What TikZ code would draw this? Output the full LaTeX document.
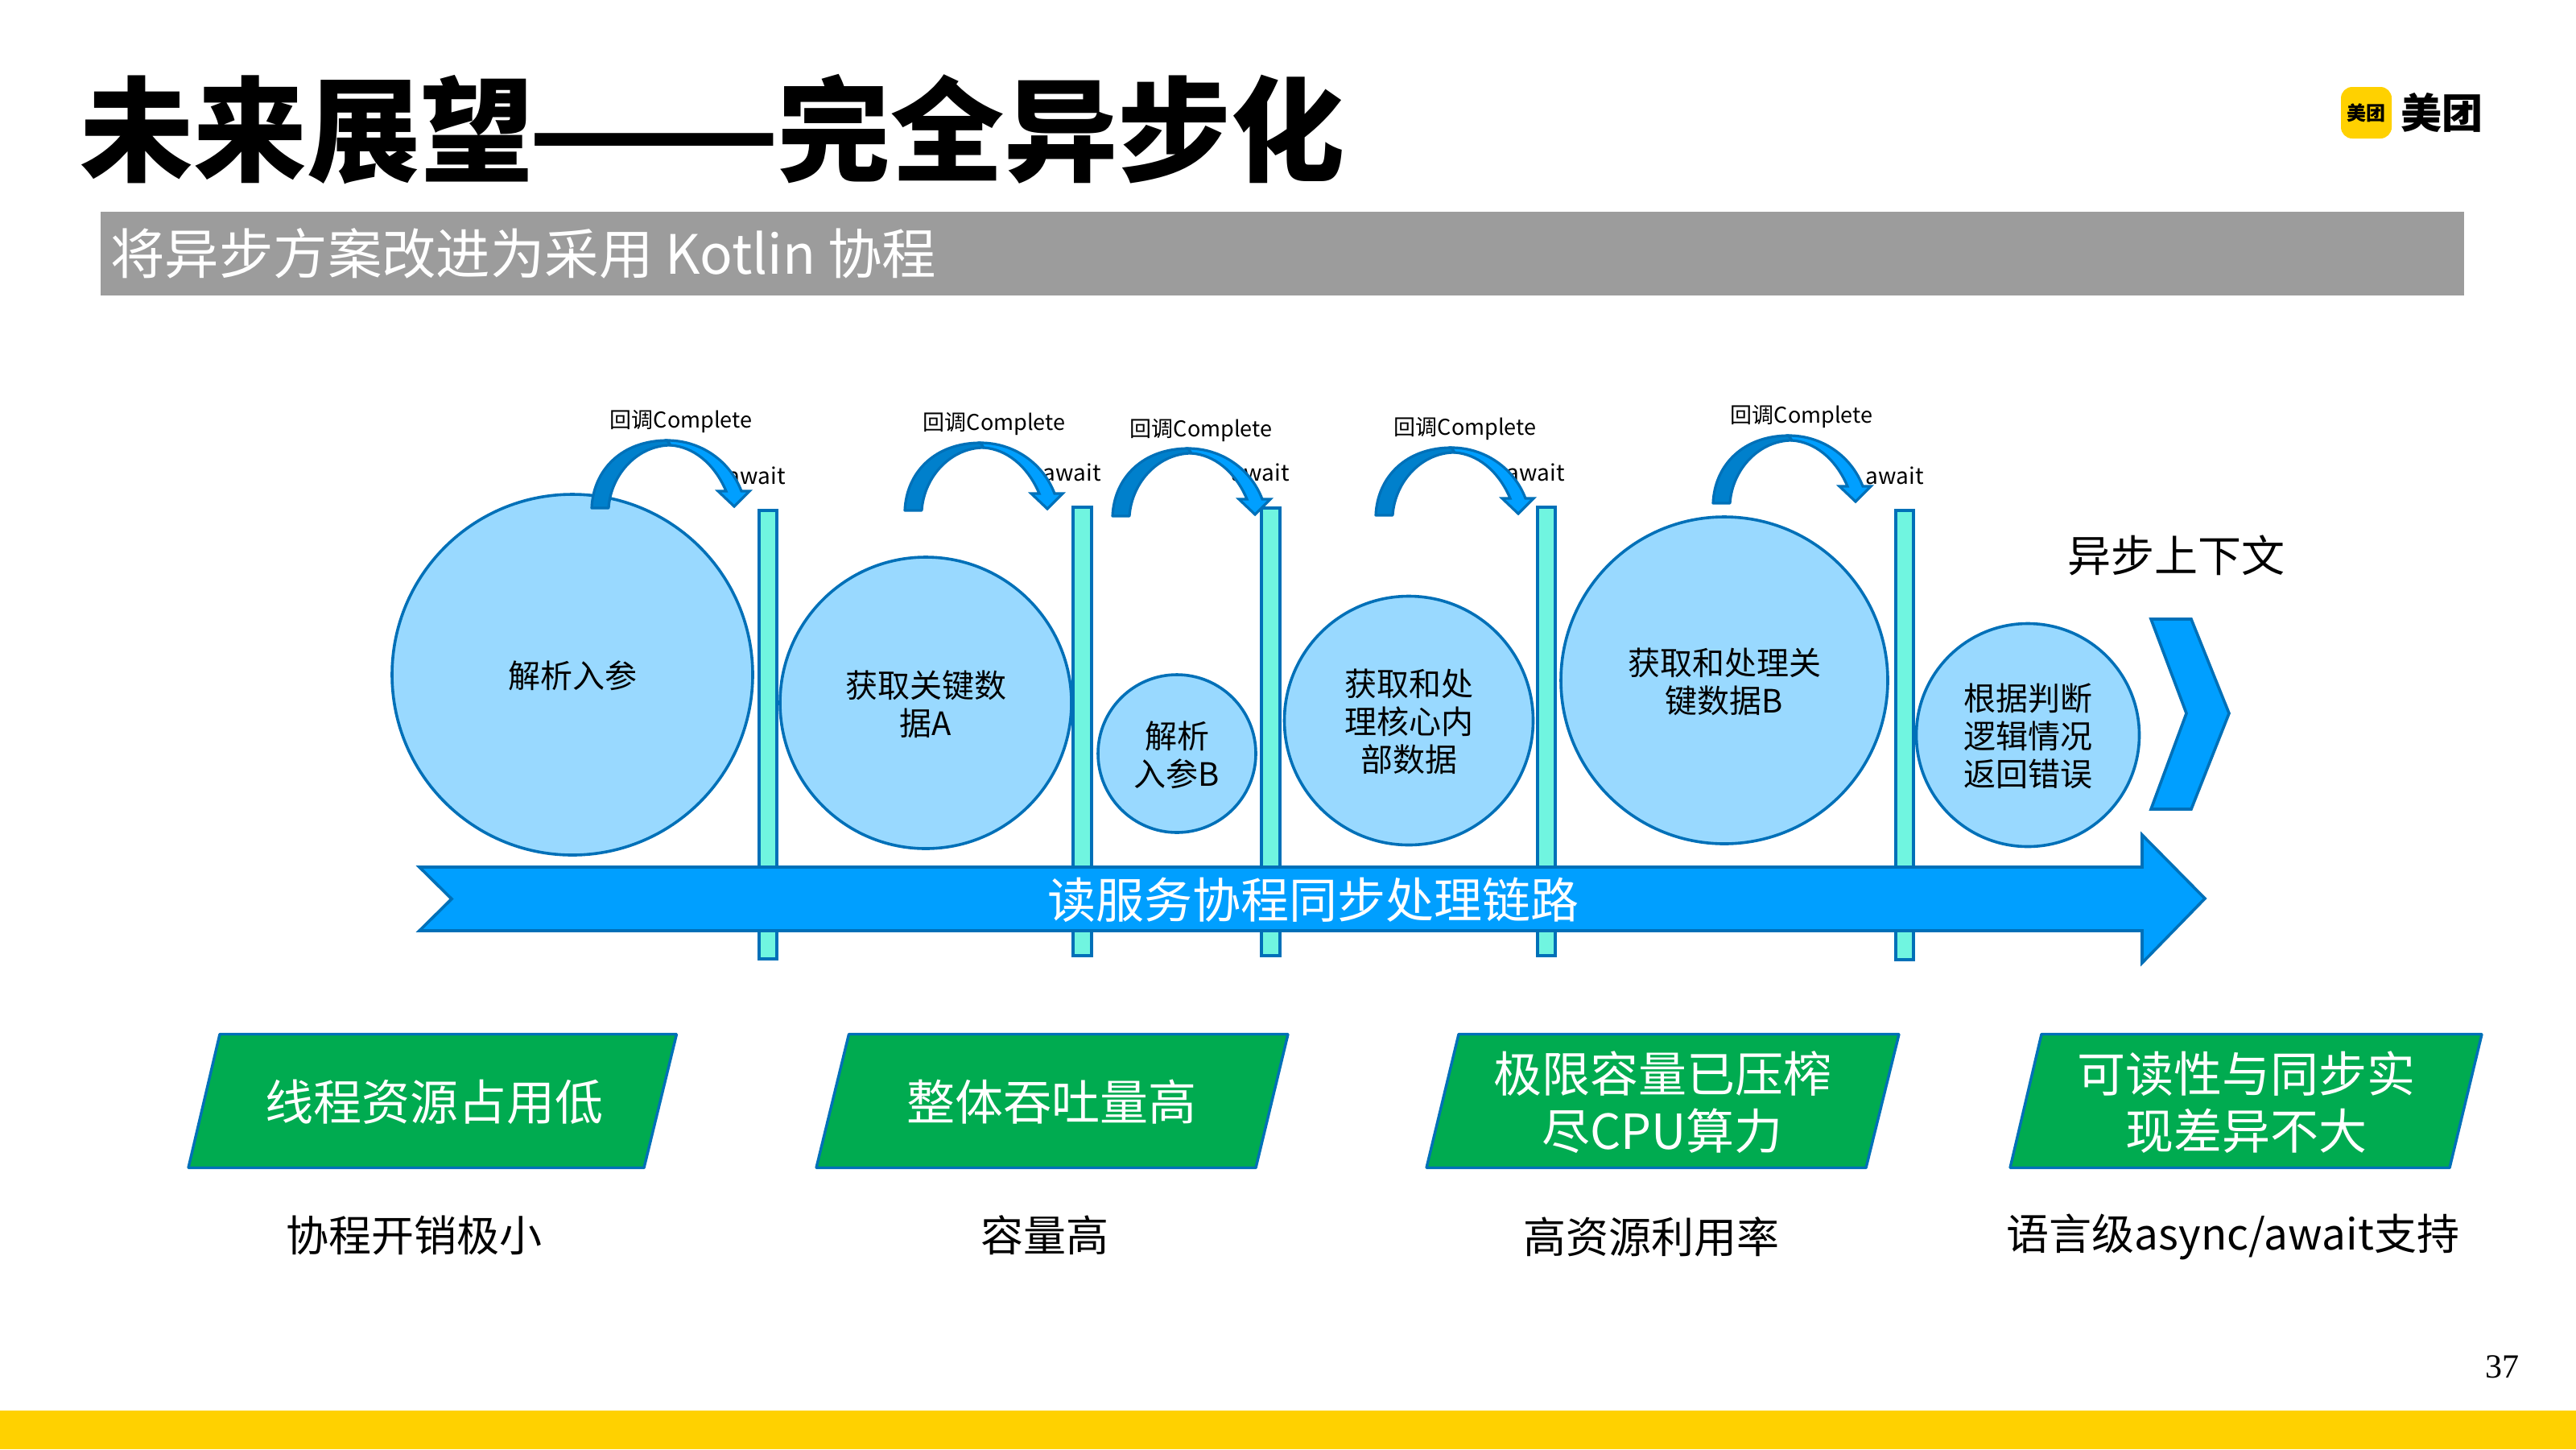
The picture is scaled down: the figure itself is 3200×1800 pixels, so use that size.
\documentclass[tikz,border=0pt]{standalone}
\usepackage{graphicx}
\usepackage{fontspec}
\setmainfont{Noto Sans CJK SC}
\newfontfamily\titlefont{Noto Sans CJK SC Black}
\newfontfamily\pagefont{Liberation Serif}
\definecolor{edgeblue}{HTML}{0070B8}
\definecolor{darkband}{HTML}{0080CC}
\definecolor{brightblue}{HTML}{009FFF}
\definecolor{paleblue}{HTML}{99D9FF}
\definecolor{aqua}{HTML}{70F5E0}
\definecolor{mtgreen}{HTML}{00AB50}
\definecolor{mtyellow}{HTML}{FFD100}
\definecolor{bargray}{HTML}{9C9C9C}
\newcommand{\fsz}[2]{\fontsize{#1}{#2}\selectfont}
\tikzset{
  edgeline/.style={draw=edgeblue,line width=1.8pt,line join=miter},
  bubble/.style={circle,edgeline,fill=paleblue,inner sep=0pt},
  bubbletext/.style={inner sep=0pt,align=center,yshift=-0.8pt,font=\fsz{20}{23.5}},
  barshape/.style={draw=edgeblue,line width=1.8pt,fill=aqua},
  greenshape/.style={draw=edgeblue,line width=1.7pt,line join=bevel,fill=mtgreen},
  greentext/.style={text=white,align=center,yshift=-0.8pt,font=\fsz{30}{35.5}},
  subtext/.style={yshift=-0.5pt,font=\fsz{26.5}{30}},
  cblabel/.style={font=\fsz{13.5}{16},yshift=-1pt,inner sep=0pt},
  awlabel/.style={font=\fsz{14}{16},inner sep=0pt},
}
\newcommand{\curvarrow}[2]{%
  \begin{scope}[shift={(#1,#2)}]
    \filldraw[draw=edgeblue,fill=darkband,line width=1.6pt,line join=round]
      (2,-2) .. controls (4,-50) and (40,-86) .. (96,-86)
      -- (100,-80)
      .. controls (60,-80) and (26,-45) .. (23,-2) -- cycle;
    \filldraw[draw=edgeblue,fill=brightblue,line width=1.6pt,line join=miter]
      (96,-86) .. controls (138,-86) and (174,-60) .. (188,-23)
      -- (198,-23) -- (179,-4) -- (159,-23) -- (169,-23)
      .. controls (154,-58) and (128,-78) .. (100,-80) -- cycle;
  \end{scope}}
\begin{document}
\begin{tikzpicture}[x=0.5pt,y=-0.5pt]
\useasboundingbox (0,0) rectangle (3200,1800);
\fill[white] (0,0) rectangle (3200,1800);
% footer and page number
\fill[mtyellow] (0,1752) rectangle (3200,1800);
\node[font=\pagefont\fsz{21}{24},inner sep=0pt] (pagenum) at (3108,1698) {37};
% title
\node[anchor=west,inner sep=0pt,font=\titlefont\fsz{70.5}{80}] (title) at (99,161) {未来展望\hspace{-4pt}\scalebox{1.3}[1]{——}\hspace{-2pt}完全异步化};
\fill[bargray] (125,263) rectangle (3061,367);
\node[anchor=west,inner sep=0pt,text=white,font=\fsz{33.7}{38}] (subtitle) at (137,315) {将异步方案改进为采用 Kotlin 协程};
% logo
\fill[mtyellow,rounded corners=7pt] (2908,108) rectangle (2971,172);
\node[inner sep=0pt,font=\bfseries\fsz{12}{14}] (logosmall) at (2939.5,140) {美团};
\node[anchor=west,inner sep=0pt,font=\bfseries\fsz{25.5}{28}] (logobig) at (2982,140) {美团};
% await labels (behind the curved arrows)
\node[awlabel,anchor=east] (aw1) at (976,591) {await};
\node[awlabel,anchor=east] (aw2) at (1368,587) {await};
\node[awlabel,anchor=east] (aw3) at (1602,587) {await};
\node[awlabel,anchor=east] (aw4) at (1944,587) {await};
\node[awlabel,anchor=east] (aw5) at (2390,591) {await};
% bars
\draw[barshape] (943,634) rectangle (965,1191);
\draw[barshape] (1333,630) rectangle (1356,1187);
\draw[barshape] (1567,631) rectangle (1590,1187);
\draw[barshape] (1910,630) rectangle (1932,1187);
\draw[barshape] (2355,634) rectangle (2377,1192);
% bubbles
\node[bubble,minimum size=224pt] (b1) at (711,838) {};
\node[bubble,minimum size=181pt] (b2) at (1150,873) {};
\node[bubble,minimum size=98pt] (b3) at (1462,936) {};
\node[bubble,minimum size=154.5pt] (b4) at (1750,895) {};
\node[bubble,minimum size=203pt] (b5) at (2142,845) {};
\node[bubble,minimum size=138.5pt] (b6) at (2519,913) {};
\node[bubbletext] (t1) at (b1) {解析入参};
\node[bubbletext] (t2) at (b2) {获取关键数\\据A};
\node[bubbletext] (t3) at (b3) {解析\\入参B};
\node[bubbletext] (t4) at (b4) {获取和处\\理核心内\\部数据};
\node[bubbletext] (t5) at (b5) {获取和处理关\\键数据B};
\node[bubbletext] (t6) at (b6) {根据判断\\逻辑情况\\返回错误};
% curved arrows
\curvarrow{733}{633}
\curvarrow{1122}{636}
\curvarrow{1380}{643}
\curvarrow{1707}{642}
\curvarrow{2126}{627}
% callback labels
\node[cblabel] (cb1) at (846,522) {回调Complete};
\node[cblabel] (cb2) at (1235,525) {回调Complete};
\node[cblabel] (cb3) at (1492,533) {回调Complete};
\node[cblabel] (cb4) at (1820,531) {回调Complete};
\node[cblabel] (cb5) at (2238,516) {回调Complete};
% main arrow
\draw[edgeline,fill=brightblue] (521,1077) -- (2661,1077) -- (2661,1037) -- (2739,1116) -- (2661,1196) -- (2661,1156) -- (521,1156) -- (561,1116.5) -- cycle;
\node[inner sep=0pt,text=white,yshift=-0.8pt,font=\fsz{30}{34}] (mainlabel) at (1631,1116) {读服务协程同步处理链路};
% chevron
\draw[edgeline,fill=brightblue] (2672,769) -- (2722,769) -- (2769,886) -- (2722,1005) -- (2672,1005) -- (2716,886) -- cycle;
\node[inner sep=0pt,font=\fsz{27}{30}] (ctx) at (2703,690) {异步上下文};
% green boxes
\draw[greenshape] (273,1284.5) -- (840.5,1284.5) -- (800,1450.5) -- (234,1450.5) -- cycle;
\draw[greenshape] (1054.5,1284.5) -- (1600,1284.5) -- (1560,1450.5) -- (1014,1450.5) -- cycle;
\draw[greenshape] (1812,1284.5) -- (2359,1284.5) -- (2318,1450.5) -- (1772,1450.5) -- cycle;
\draw[greenshape] (2536,1284.5) -- (3083,1284.5) -- (3043,1450.5) -- (2497,1450.5) -- cycle;
\node[greentext] (g1) at (539,1367) {线程资源占用低};
\node[greentext] (g2) at (1306,1367) {整体吞吐量高};
\node[greentext] (g3) at (2065,1367) {极限容量已压榨\\尽CPU算力};
\node[greentext] (g4) at (2790,1367) {可读性与同步实\\现差异不大};
% captions
\node[subtext] (s1) at (514,1533) {协程开销极小};
\node[subtext] (s2) at (1298,1533) {容量高};
\node[subtext] (s3) at (2051,1535) {高资源利用率};
\node[subtext] (s4) at (2774,1535) {语言级async/await支持};
\end{tikzpicture}
\end{document}
